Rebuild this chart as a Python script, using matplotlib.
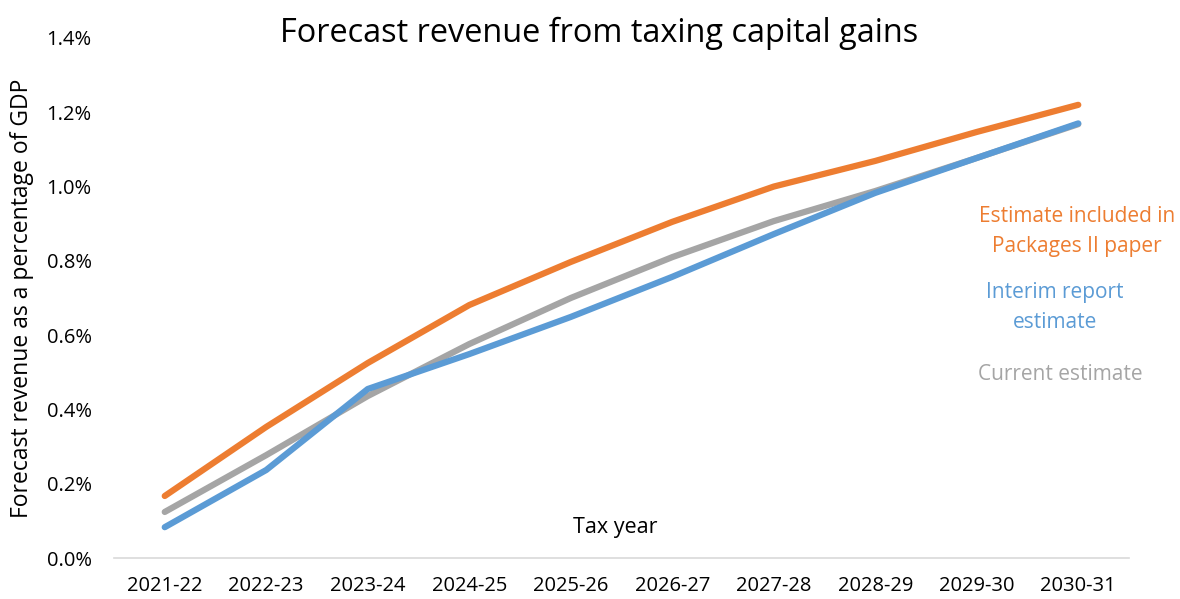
import numpy as np
from matplotlib import pyplot as plt
from matplotlib.ticker import FuncFormatter

years = ["2021-22", "2022-23", "2023-24", "2024-25", "2025-26",
         "2026-27", "2027-28", "2028-29", "2029-30", "2030-31"]
packages_ii = [0.167, 0.353, 0.525, 0.681, 0.797, 0.905, 1.000, 1.069, 1.147, 1.220]
interim = [0.083, 0.237, 0.455, 0.549, 0.649, 0.757, 0.872, 0.983, 1.077, 1.170]
current = [0.124, 0.277, 0.436, 0.576, 0.700, 0.810, 0.907, 0.988, 1.077, 1.168]

ORANGE = "#ED7D31"
BLUE = "#5B9BD5"
GREY = "#A5A5A5"

plt.rcParams["font.family"] = ["Open Sans", "DejaVu Sans"]

fig = plt.figure(figsize=(11.8, 5.99), dpi=100)
ax = fig.add_axes([0.0966, 0.0684, 0.8602, 0.8682])

x = np.arange(len(years))
ax.plot(x, current, color=GREY, lw=4.5, solid_capstyle="round", solid_joinstyle="round", zorder=2)
ax.plot(x, interim, color=BLUE, lw=4.5, solid_capstyle="round", solid_joinstyle="round", zorder=3)
ax.plot(x, packages_ii, color=ORANGE, lw=4.5, solid_capstyle="round", solid_joinstyle="round", zorder=4)

ax.set_xlim(-0.5, len(years) - 0.5)
ax.set_ylim(0, 1.4)
ax.set_xticks(x)
ax.set_xticklabels(years)
ax.set_yticks(np.arange(0, 1.41, 0.2))
ax.yaxis.set_major_formatter(FuncFormatter(lambda v, p: f"{v:.1f}%"))
ax.tick_params(axis="both", length=0, labelsize=14.5, colors="black")
ax.tick_params(axis="x", pad=13)
ax.tick_params(axis="y", pad=16)

for side in ["top", "right", "left"]:
    ax.spines[side].set_visible(False)
ax.spines["bottom"].set_color("#D9D9D9")
ax.spines["bottom"].set_linewidth(1.2)

fig.text(0.508, 0.945, "Forecast revenue from taxing capital gains", ha="center", va="center", fontsize=23.4)
fig.text(0.019, 0.502, "Forecast revenue as a percentage of GDP", rotation=90, ha="center", va="center",
         fontsize=16.5)
ax.text(4.44, 0.083, "Tax year", ha="center", va="center", fontsize=15.5)

ax.text(8.99, 0.880, "Estimate included in\nPackages II paper", color=ORANGE, ha="center", va="center",
        fontsize=15, linespacing=1.55)
ax.text(8.77, 0.674, "Interim report\nestimate", color=BLUE, ha="center", va="center",
        fontsize=15, linespacing=1.55)
ax.text(8.82, 0.493, "Current estimate", color=GREY, ha="center", va="center", fontsize=15)

fig.savefig("out.png", dpi=100)
